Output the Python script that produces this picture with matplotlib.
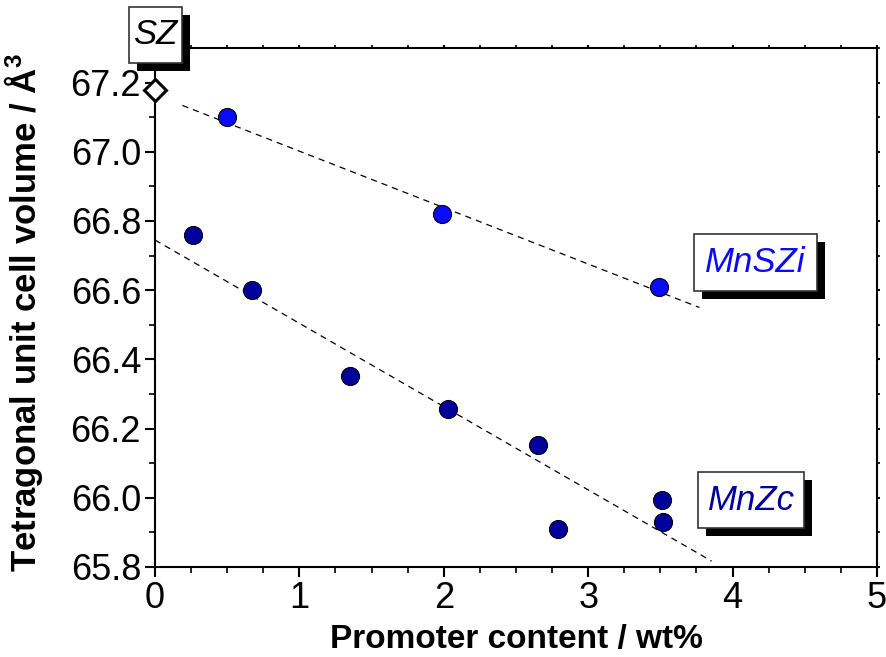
import matplotlib
matplotlib.use("Agg")
import matplotlib.pyplot as plt
from matplotlib.patches import Rectangle
from matplotlib.ticker import MultipleLocator

plt.rcParams['font.family'] = ['Liberation Sans', 'DejaVu Sans']
plt.rcParams['mathtext.fontset'] = 'custom'
plt.rcParams['mathtext.rm'] = 'Liberation Sans'
plt.rcParams['mathtext.bf'] = 'Liberation Sans:bold'

# Unpromoted sulfated zirconia
sz_x = [0.0]
sz_y = [67.18]

# Mn-promoted SZ (impregnated)
mnszi_x = [0.50, 1.99, 3.49]
mnszi_y = [67.10, 66.82, 66.61]

# Mn-promoted zirconia (coprecipitated)
mnzc_x = [0.26, 0.67, 1.35, 2.03, 2.65, 2.79, 3.51, 3.52]
mnzc_y = [66.76, 66.60, 66.353, 66.257, 66.152, 65.911, 65.995, 65.93]

# Linear trend lines (end points)
trend_i_x = [0.19, 3.77]
trend_i_y = [67.134, 66.550]
trend_c_x = [0.0, 3.855]
trend_c_y = [66.745, 65.817]

x_ticks = [0, 1, 2, 3, 4, 5]
y_ticks = [65.8, 66.0, 66.2, 66.4, 66.6, 66.8, 67.0, 67.2]

BLUE = '#0a0aff'
NAVY = '#00009c'

W, H = 887, 657
fig = plt.figure(figsize=(W / 100, H / 100), dpi=100)
ax = fig.add_axes([155 / W, 1 - 567 / H, 722 / W, 519 / H])

ax.plot(trend_i_x, trend_i_y, ls=(0, (5, 4)), color='black', lw=0.9)
ax.plot(trend_c_x, trend_c_y, ls=(0, (5, 4)), color='black', lw=0.9)

ax.plot(mnszi_x, mnszi_y, 'o', ms=13, mfc=BLUE, mec='black', mew=0.8, zorder=3)
ax.plot(mnzc_x, mnzc_y, 'o', ms=13, mfc=NAVY, mec='black', mew=0.8, zorder=3)
ax.plot(sz_x, sz_y, 'D', ms=11.5, mfc='white', mec='black', mew=2.2,
        zorder=4, clip_on=False)

ax.set_xlim(0, 5)
ax.set_ylim(65.8, 67.3)
ax.set_xticks(x_ticks)
ax.set_xticklabels([str(v) for v in x_ticks])
ax.set_yticks(y_ticks)
ax.set_yticklabels([f"{v:.1f}" for v in y_ticks])
ax.xaxis.set_minor_locator(MultipleLocator(0.25))
ax.yaxis.set_minor_locator(MultipleLocator(0.1))

for s in ax.spines.values():
    s.set_linewidth(1.5)

ax.tick_params(which='major', direction='out', length=7, width=1.5,
               labelsize=26, pad=3)
ax.tick_params(which='minor', direction='out', length=4, width=1.2)
ax.tick_params(which='both', top=True, right=True, labeltop=False, labelright=False)
# short marks on the top and right spines
for t in ax.xaxis.get_ticklines(minor=False)[1::2] + ax.xaxis.get_ticklines(minor=True)[1::2]:
    t.set_markersize(2)
for t in ax.yaxis.get_ticklines(minor=False)[1::2] + ax.yaxis.get_ticklines(minor=True)[1::2]:
    t.set_markersize(2)

ax.set_xlabel('Promoter content / wt%', fontsize=24, fontweight='bold', labelpad=6)
ax.set_ylabel(r'Tetragonal unit cell volume / Å$^{\mathbf{3}}$', fontsize=25,
              fontweight='bold')
ax.yaxis.set_label_coords(-0.152, 0.49)


def shadow_label(x0, y0, w, h, text, color, off=8):
    """Boxed label with a drop shadow; box given in pixels from top-left."""
    def fr(px, py, pw, ph):
        return px / W, 1 - (py + ph) / H, pw / W, ph / H
    sx, sy, sw, sh = fr(x0 + off, y0 + off, w, h)
    fig.add_artist(Rectangle((sx, sy), sw, sh, transform=fig.transFigure,
                             facecolor='black', edgecolor='none', zorder=5))
    bx, by, bw, bh = fr(x0, y0, w, h)
    fig.add_artist(Rectangle((bx, by), bw, bh, transform=fig.transFigure,
                             facecolor='white', edgecolor='#333333', lw=1.2,
                             zorder=6))
    fig.text(bx + bw / 2, by + bh / 2, text, ha='center', va='center',
             fontsize=25, style='italic', color=color, zorder=7)


shadow_label(129, 7, 53, 56, 'SZ', 'black')
shadow_label(694, 234, 123, 57, 'MnSZi', BLUE)
shadow_label(698, 472, 106, 56, 'MnZc', NAVY)

fig.savefig('out.png', dpi=100)
